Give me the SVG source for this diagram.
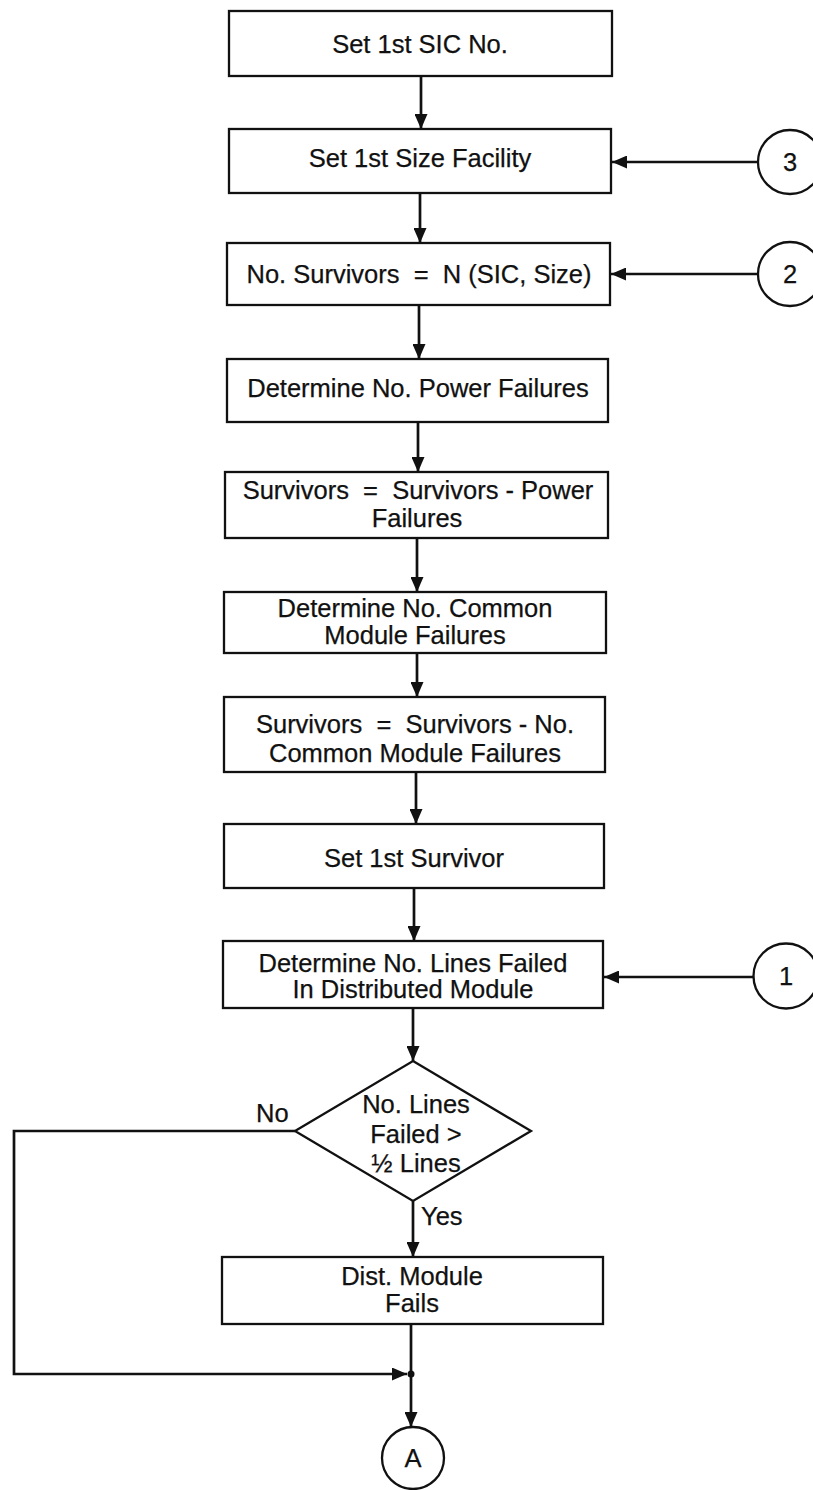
<svg xmlns="http://www.w3.org/2000/svg" width="813" height="1490" viewBox="0 0 813 1490">
<style>
  .box{fill:#fff;stroke:#111;stroke-width:2.3}
  .circ{fill:#fff;stroke:#111;stroke-width:2.3}
  .t{font-family:"Liberation Sans",Arial,sans-serif;font-size:25.5px;fill:#111;text-anchor:middle;stroke:#111;stroke-width:0.25}
  .lbl{font-family:"Liberation Sans",Arial,sans-serif;font-size:25.5px;fill:#111;stroke:#111;stroke-width:0.25}
  .c{fill:none;stroke:#111;stroke-width:2.7}
</style>
<defs>
  <marker id="ah" viewBox="0 0 15 13" refX="15" refY="6.5" markerWidth="15" markerHeight="13" markerUnits="userSpaceOnUse" orient="auto">
    <path d="M0,0 L15,6.5 L0,13 z" fill="#111"/>
  </marker>
</defs>
<rect width="813" height="1490" fill="#fff"/>
<g id="connectors">
  <path class="c" d="M421,76 V129" marker-end="url(#ah)"/>
  <path class="c" d="M420,193 V243" marker-end="url(#ah)"/>
  <path class="c" d="M419,305 V359" marker-end="url(#ah)"/>
  <path class="c" d="M418,422 V472" marker-end="url(#ah)"/>
  <path class="c" d="M417,538 V592" marker-end="url(#ah)"/>
  <path class="c" d="M417,653 V697" marker-end="url(#ah)"/>
  <path class="c" d="M416,772 V824" marker-end="url(#ah)"/>
  <path class="c" d="M414,888 V941" marker-end="url(#ah)"/>
  <path class="c" d="M413,1008 V1061" marker-end="url(#ah)"/>
  <path class="c" d="M413,1201 V1257" marker-end="url(#ah)"/>
  <path class="c" d="M411,1324 V1374"/>
  <path class="c" d="M411,1374 V1427" marker-end="url(#ah)"/>
  <path class="c" d="M295,1131 H14 V1374 H407" marker-end="url(#ah)"/>
  <circle cx="411" cy="1374" r="3.5" fill="#111"/>
  <path class="c" d="M758,162 H612" marker-end="url(#ah)"/>
  <path class="c" d="M758,274 H611" marker-end="url(#ah)"/>
  <path class="c" d="M753,977 H604" marker-end="url(#ah)"/>
  <text class="lbl" x="256" y="1122">No</text>
  <text class="lbl" x="421" y="1225">Yes</text>
</g>
<g id="n1"><rect class="box" x="229" y="11" width="383" height="65"/><text class="t" x="420" y="53">Set 1st SIC No.</text></g>
<g id="n2"><rect class="box" x="229" y="129" width="382" height="64"/><text class="t" x="420" y="167">Set 1st Size Facility</text></g>
<g id="n3"><rect class="box" x="227" y="243" width="383" height="62"/><text class="t" x="419" y="283">No. Survivors&#160; =&#160; N (SIC, Size)</text></g>
<g id="n4"><rect class="box" x="227" y="359" width="381" height="63"/><text class="t" x="418" y="397">Determine No. Power Failures</text></g>
<g id="n5"><rect class="box" x="225" y="472" width="383" height="66"/><text class="t" x="418" y="499">Survivors&#160; =&#160; Survivors - Power</text><text class="t" x="417" y="527">Failures</text></g>
<g id="n6"><rect class="box" x="224" y="592" width="382" height="61"/><text class="t" x="415" y="617">Determine No. Common</text><text class="t" x="415" y="644">Module Failures</text></g>
<g id="n7"><rect class="box" x="224" y="697" width="381" height="75"/><text class="t" x="415" y="733">Survivors&#160; =&#160; Survivors - No.</text><text class="t" x="415" y="762">Common Module Failures</text></g>
<g id="n8"><rect class="box" x="224" y="824" width="380" height="64"/><text class="t" x="414" y="867">Set 1st Survivor</text></g>
<g id="n9"><rect class="box" x="223" y="941" width="380" height="67"/><text class="t" x="413" y="972">Determine No. Lines Failed</text><text class="t" x="413" y="998">In Distributed Module</text></g>
<g id="d1"><polygon class="box" points="413,1061 531,1131 413,1201 295,1131"/><text class="t" x="416" y="1113">No. Lines</text><text class="t" x="416" y="1143">Failed &gt;</text><text class="t" x="416" y="1172">½ Lines</text></g>
<g id="n10"><rect class="box" x="222" y="1257" width="381" height="67"/><text class="t" x="412" y="1285">Dist. Module</text><text class="t" x="412" y="1312">Fails</text></g>
<g id="c3"><circle class="circ" cx="790" cy="162" r="32"/><text class="t" x="790" y="171">3</text></g>
<g id="c2"><circle class="circ" cx="790" cy="274" r="32"/><text class="t" x="790" y="283">2</text></g>
<g id="c1"><circle class="circ" cx="786" cy="976" r="32.5"/><text class="t" x="786" y="985">1</text></g>
<g id="cA"><circle class="circ" cx="413" cy="1458" r="31"/><text class="t" x="413" y="1467">A</text></g>
</svg>
